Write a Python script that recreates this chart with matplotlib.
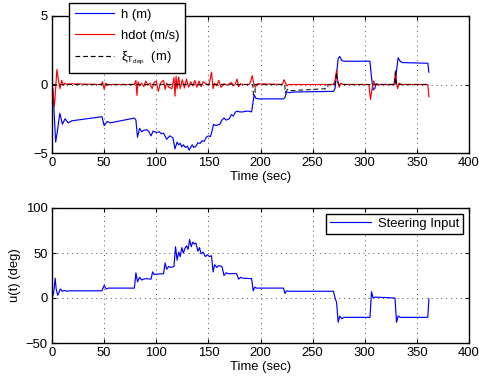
import matplotlib
matplotlib.use("Agg")
import matplotlib.pyplot as plt
from matplotlib.lines import Line2D

plt.rcParams['font.family'] = ['Liberation Sans', 'DejaVu Sans']
plt.rcParams['mathtext.fontset'] = 'custom'
plt.rcParams['mathtext.rm'] = 'Liberation Sans'
plt.rcParams['mathtext.it'] = 'Liberation Sans'
plt.rcParams['font.size'] = 9.4

# ---- Data: depth h (m) ----
t_h = [0, 1, 2, 3.5, 5, 7.5, 10, 12.5, 15.5, 19, 48, 50, 53, 56, 79, 80.5, 82, 84, 86, 88,
       91, 93, 95, 97, 100, 103, 105, 107, 110, 113, 116, 118, 120, 121.5, 123, 124.5, 126,
       128, 130, 131.5, 133, 134.5, 136, 138, 140, 142, 144, 146, 148, 150, 152, 153.5, 155,
       157, 159, 161, 163, 165, 167, 170, 172, 174, 176, 178, 180, 183, 186, 189, 191.5, 193,
       194, 195.5, 198, 222, 223.5, 225, 228, 231, 270, 271.5, 273, 274.5, 276, 278, 280, 305,
       306.5, 308, 309.5, 311, 313, 329, 330.5, 332, 334, 336, 360.5, 361.5]
h_vals = [0, -0.5, -2.0, -4.2, -3.5, -2.1, -2.9, -2.5, -2.8, -2.65, -2.35, -3.0, -2.7, -2.8,
          -2.45, -2.6, -3.85, -3.2, -3.45, -3.35, -3.3, -3.45, -3.75, -3.4, -3.5, -3.45, -3.6,
          -3.55, -4.0, -3.75, -3.9, -4.7, -4.2, -4.4, -4.3, -4.55, -4.4, -4.6, -4.5, -4.8, -4.6,
          -4.4, -4.6, -4.5, -4.25, -4.3, -4.1, -4.15, -3.85, -3.75, -3.8, -3.4, -2.9, -3.0,
          -2.95, -2.9, -2.6, -2.45, -2.6, -2.5, -2.2, -2.3, -2.0, -1.95, -2.0, -2.0, -1.95,
          -1.95, -2.0, -1.2, -0.75, -1.0, -1.05, -1.05, -0.95, -0.55, -0.6, -0.55, -0.5, -0.3,
          0.8, 1.9, 2.05, 1.75, 1.7, 1.7, 0.5, -0.4, -0.3, 0.05, 0.0, 0.0, 1.0, 1.95, 1.7, 1.6,
          1.55, 0.9]

# ---- Data: depth rate hdot (m/s) ----
t_hd = [0, 1, 2.3, 3.5, 4.7, 6, 7.7, 9.3, 11, 12.5, 14, 16, 47, 48.5, 50, 51.5, 53, 55, 79,
        80.5, 81.5, 82.5, 84, 86, 88, 90, 92, 94, 96, 98, 100, 102, 104, 107, 108.5,
        110, 112, 115, 117, 118, 119, 120, 121.5, 123, 125, 127, 129, 131,
        133, 135, 137, 139, 141, 143, 145, 148, 150, 151.5,
        153, 154.5, 156, 158, 160, 162, 165, 168, 172, 174, 176, 177.5, 179, 181,
        183, 187, 189, 190.5, 192, 193.5, 195, 197, 221, 222.5, 224, 225.5, 227, 270,
        271.5, 273, 274, 275.5, 277, 279, 304, 305.5, 307, 308.5, 310, 312, 328, 329.5, 330.5,
        331.5, 333, 335, 360.5, 361.5]
hd_vals = [0, -0.5, -1.6, -0.3, 1.1, 0.4, -0.3, 0.3, -0.05, 0.1, 0.0, 0.05, 0, 0.2, -0.35,
           0.1, -0.05, 0, 0, 0.3, -0.8, 0.2, -0.1, 0.1, -0.15, 0.25, -0.05, 0.1, -0.3, 0.15,
           0.25, -0.5, 0.1, 0.3, -0.35, 0.1, -0.2, -0.3, 0.5, -0.85, 0.6, -0.3, 0.55,
           -0.3, 0.35, -0.25, 0.4, -0.2, 0.2, -0.1, 0.3, -0.2, 0.25, -0.15,
           0.2, 0.05, -0.05, 0.3, 0.9, -0.3, 0.1, -0.1, 0.3, -0.2, 0.05,
           -0.05, 0.15, -0.1, 0.05, 0.4, -0.15, 0.05, 0, 0, 0, 0.2, 0.65, 0.1, -0.2, 0.05,
           0, 0.35, 0.1, -0.1, 0.0, 0, 0.3, 1.05, 0.3, -0.2, 0.1, 0, 0, -1.1, -0.3, 0.25, -0.05,
           0, 0, 0.9, 0.1, -0.3, 0.1, 0, 0, -0.9]

# ---- Data: xi_T_dep (m) ----
t_xi = [0, 192.8, 193.1, 194.7, 195, 223.3, 223.6, 226, 229, 264, 265, 271.5, 273, 274, 275,
        328.8, 329.5, 330.3, 361.5]
xi_vals = [0, 0, -0.75, -0.75, 0, 0, -0.6, -0.35, -0.45, -0.3, 0, 0, 0.9, 0.2, 0, 0, 1.1, 0, 0]

# ---- Data: steering input u(t) (deg) ----
t_u = [0, 1.5, 3, 4, 5.5, 8, 10, 12, 14, 17, 48, 50, 52, 54, 79, 80.5, 82, 84, 86, 88, 90, 95,
       96.5, 98, 100, 107, 108.5, 110, 112, 114, 117, 118.5, 120, 121.5, 123, 124.5, 126,
       127.5, 129, 130.5, 132, 133.5, 135, 136.5, 138, 140, 141.5, 143, 145, 147, 149, 151,
       153, 154.5, 156, 158, 160, 163, 165, 167, 169, 175, 177, 179, 181, 183, 191.5, 193,
       194.5, 196, 222, 223.5, 225, 227, 270, 271.5, 273, 274.5, 276, 278, 280, 305, 306.5,
       308, 310, 329, 330.5, 332, 334, 360.5, 361.5]
u_vals = [0, 5, 22, 10, 3, 10, 7.5, 8.5, 7.5, 8, 8, 14, 10, 11, 11, 28, 18, 23, 20, 21, 21.5,
          21, 29, 26, 26.5, 27, 39, 32, 35, 34, 35, 57, 42, 51, 46, 56, 50, 55, 58, 54, 65, 57,
          62, 60, 61, 52, 56, 49, 51, 46, 48, 46, 47, 29, 37, 34, 36, 35, 25, 28, 27, 27, 27, 21,
          23, 22, 21.5, 8, 12, 11, 11, 5, 8, 7.5, 7.5, 0, -5, -27, -20, -23, -21.5, -21.5, 7, 0,
          1, 0, -27, -20, -21.5, -21.5, -1]

x_ticks = [0, 50, 100, 150, 200, 250, 300, 350, 400]
top_yticks = [-5, 0, 5]
bot_yticks = [-50, 0, 50, 100]

W, H = 479, 377
fig = plt.figure(figsize=(W / 100, H / 100), dpi=100)

def px_axes(l, r, t, b):
    return fig.add_axes([l / W, 1 - b / H, (r - l) / W, (b - t) / H])

ax1 = px_axes(52, 469, 16, 153)
ax2 = px_axes(52, 469, 208, 343)

def style(ax):
    ax.set_xlim(0, 400)
    ax.set_xticks(x_ticks)
    ax.grid(True, color='0.3', linestyle=(0, (1, 4)), linewidth=0.7)
    ax.tick_params(direction='in', length=3, width=0.8, top=True, right=True, pad=3)
    for s in ax.spines.values():
        s.set_linewidth(1.0)
        s.set_color('black')
    ax.set_xlabel('Time (sec)', labelpad=1)

lw = 0.85
ax1.plot(t_h, h_vals, color='#0000ff', lw=lw)
ax1.plot(t_hd, hd_vals, color='#ff0000', lw=lw)
ax1.plot(t_xi, xi_vals, color='black', lw=lw, linestyle=(0, (4, 2.5)), alpha=0.85)
ax1.set_ylim(-5, 5)
ax1.set_yticks(top_yticks)
style(ax1)

handles = [Line2D([], [], color='#0000ff', lw=lw),
           Line2D([], [], color='#ff0000', lw=lw),
           Line2D([], [], color='black', lw=lw, linestyle=(0, (4, 2.5)))]
labels = ['h (m)', 'hdot (m/s)', r'$\xi_{\mathrm{T}_{\mathrm{dep}}}$  (m)']
leg1 = fig.legend(handles, labels, loc='upper left',
                  bbox_to_anchor=(69 / W, 1 - 3 / H), fancybox=False,
                  edgecolor='black', framealpha=1, borderaxespad=0,
                  handlelength=3.0, handletextpad=0.5, labelspacing=0.65,
                  borderpad=0.45)
leg1.get_frame().set_linewidth(1.0)

ax2.plot(t_u, u_vals, color='#0000ff', lw=lw, label='Steering Input')
ax2.set_ylim(-50, 100)
ax2.set_yticks(bot_yticks)
style(ax2)
ax2.set_ylabel('u(t) (deg)', labelpad=3.5)
leg2 = fig.legend(loc='upper right', bbox_to_anchor=(463 / W, 1 - 214 / H),
                  handles=ax2.get_lines(), labels=['Steering Input'],
                  fancybox=False, edgecolor='black', framealpha=1, borderaxespad=0,
                  handlelength=3.2, handletextpad=0.5, borderpad=0.3)
leg2.get_frame().set_linewidth(1.0)

fig.savefig('out.png', dpi=100)
